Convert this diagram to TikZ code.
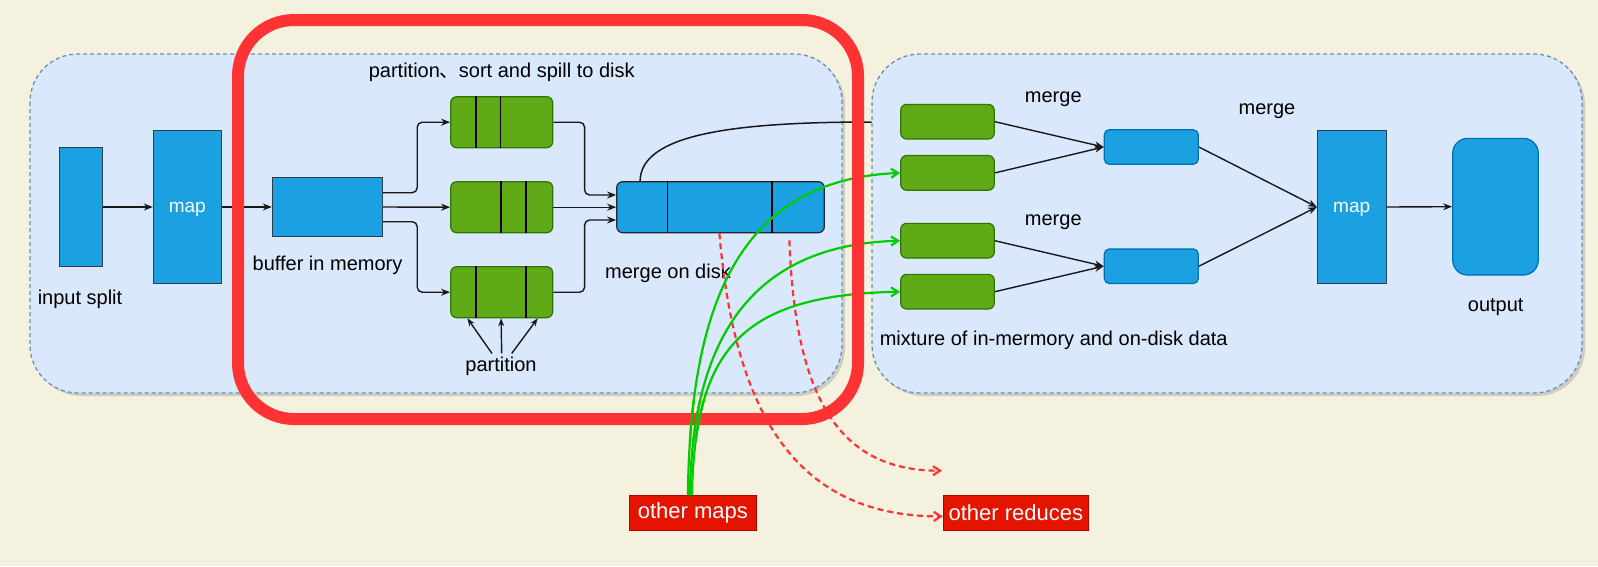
\documentclass[tikz,border=0pt]{standalone}
\usepackage{fontspec}
\setmainfont{Liberation Sans}
\newfontfamily\cjk{Noto Sans CJK SC}
\usetikzlibrary{arrows.meta,calc}
\definecolor{bgc}{HTML}{F4F1DE}
\definecolor{contfill}{HTML}{DAE8FC}
\definecolor{contline}{HTML}{6C8EBF}
\definecolor{bluefill}{HTML}{1BA1E2}
\definecolor{blueline}{HTML}{006EAF}
\definecolor{darkline}{HTML}{2E3B48}
\definecolor{greenfill}{HTML}{60A917}
\definecolor{greenline}{HTML}{2D7600}
\definecolor{redfill}{HTML}{E51400}
\definecolor{redline}{HTML}{B20000}
\definecolor{hired}{HTML}{FF3333}
\definecolor{gline}{HTML}{00CC00}
\begin{document}
\begin{tikzpicture}[x=1pt,y=-1pt,
  container/.style={draw=contline,fill=contfill,line width=1.3pt,dash pattern=on 4pt off 3pt,rounded corners=48pt},
  shadowbox/.style={fill=black!45,opacity=0.35,rounded corners=48pt},
  bluebox/.style={draw=darkline,fill=bluefill,line width=1pt,inner sep=0pt},
  bluerbox/.style={draw=blueline,fill=bluefill,line width=1.2pt,rounded corners=5pt,inner sep=0pt},
  greenbox/.style={draw=greenline,fill=greenfill,line width=1.2pt,rounded corners=6pt,inner sep=0pt},
  redbox/.style={draw=redline,fill=redfill,line width=1pt,inner sep=0pt,text=white,font=\fontsize{22}{26}\selectfont},
  lbl/.style={inner sep=1pt,text=black,font=\fontsize{20}{24}\selectfont},
  wlbl/.style={text=white,font=\fontsize{19}{22}\selectfont},
  conn/.style={draw=black!90,line width=1.4pt,-{Stealth[length=9pt,width=7pt]}},
  divline/.style={draw=black,line width=1.5pt},
  gconn/.style={draw=gline,line width=2.2pt,-{Straight Barb[length=7pt,width=9pt]}},
  rdash/.style={draw=hired,line width=2.2pt,dash pattern=on 6pt off 4pt,-{Straight Barb[length=7pt,width=9pt]}}
]
\useasboundingbox (0,0) rectangle (1598,566);
\fill[bgc] (0,0) rectangle (1598,566);

% containers
\fill[shadowbox] (33,57) rectangle (845,396);
\fill[shadowbox] (875,57) rectangle (1585,396);
\path[container] (30,54) rectangle (842,393);
\path[container] (872,54) rectangle (1582,393);

% left part nodes
\node[bluebox,minimum width=43pt,minimum height=119.4pt] (insplit) at (80.8,207) {};
\node[bluebox,minimum width=68pt,minimum height=152.6pt] (mapa) at (187.3,207) {};
\node[wlbl] (mapatxt) at (187.3,209) {map};
\node[bluebox,minimum width=110.4pt,minimum height=59.4pt] (buf) at (327.5,207) {};
\node[greenbox,minimum width=102pt,minimum height=51pt] (ga) at (501.7,122.2) {};
\node[greenbox,minimum width=102pt,minimum height=51pt] (gb) at (501.7,207.2) {};
\node[greenbox,minimum width=102pt,minimum height=51pt] (gc) at (501.7,292.2) {};
\node[draw=black!85,fill=bluefill,line width=1.2pt,rounded corners=6pt,inner sep=0pt,minimum width=207.6pt,minimum height=51pt] (mrg) at (720.5,207.2) {};

\draw[divline] ($(ga.north west)+(26,0)$) -- ($(ga.south west)+(26,0)$);
\draw[divline] ($(ga.north west)+(50.3,0)$) -- ($(ga.south west)+(50.3,0)$);
\draw[divline] ($(gb.north west)+(51,0)$) -- ($(gb.south west)+(51,0)$);
\draw[divline] ($(gb.north west)+(76,0)$) -- ($(gb.south west)+(76,0)$);
\draw[divline] ($(gc.north west)+(26,0)$) -- ($(gc.south west)+(26,0)$);
\draw[divline] ($(gc.north west)+(76,0)$) -- ($(gc.south west)+(76,0)$);
\draw[divline] ($(mrg.north west)+(51.6,0)$) -- ($(mrg.south west)+(51.6,0)$);
\draw[divline] ($(mrg.north west)+(156,0)$) -- ($(mrg.south west)+(156,0)$);

% labels left
\node[lbl] (linput) at (80,299) {input split};
\node[lbl] (lbuf) at (327.5,265) {buffer in memory};
\node[lbl] (lspill) at (501.7,72.5) {partition{\cjk 、}\kern-1pt sort and spill to disk};
\node[lbl] (lpart) at (501,366) {partition};
\node[lbl] (lmod) at (668,273) {merge on disk};

% right part nodes
\node[greenbox,minimum width=93.6pt,minimum height=34.7pt] (ra) at (947.5,121.7) {};
\node[greenbox,minimum width=93.6pt,minimum height=34.7pt] (rb) at (947.5,172.9) {};
\node[greenbox,minimum width=93.6pt,minimum height=34.7pt] (rc) at (947.5,240.7) {};
\node[greenbox,minimum width=93.6pt,minimum height=34.7pt] (rd) at (947.5,291.7) {};
\node[bluerbox,minimum width=94pt,minimum height=34.6pt] (re) at (1151.3,147) {};
\node[bluerbox,minimum width=94pt,minimum height=34.6pt] (rf) at (1151.3,266.2) {};
\node[bluebox,minimum width=68.7pt,minimum height=152.6pt] (mapb) at (1351.7,207) {};
\node[wlbl] (mapbtxt) at (1351.7,209) {map};
\node[draw=blueline,fill=bluefill,line width=1.2pt,rounded corners=15pt,inner sep=0pt,minimum width=85.6pt,minimum height=136.7pt] (outp) at (1495.5,206.7) {};

\node[lbl] (lm1) at (1053.3,99) {merge};
\node[lbl] (lm2) at (1053.3,222.5) {merge};
\node[lbl] (lm3) at (1267,111.5) {merge};
\node[lbl] (lmix) at (1053.7,340.5) {mixture of in-mermory and on-disk data};
\node[lbl] (lout) at (1495.7,307) {output};

% bottom nodes
\node[redbox,minimum width=127.7pt,minimum height=34.3pt] (omaps) at (692.9,512.9) {other maps};
\node[redbox,minimum width=145pt,minimum height=34.3pt] (ored) at (1015.8,512.9) {other reduces};

% connectors left
\draw[conn] (insplit.east) -- (mapa.west);
\draw[conn] (mapa.east) -- (buf.west);
\draw[conn,rounded corners=5pt] ($(buf.east)+(0,-14.3)$) -- ++(34,0) |- (ga.west);
\draw[conn] (buf.east) -- (gb.west);
\draw[conn,rounded corners=5pt] ($(buf.east)+(0,14.7)$) -- ++(34,0) |- (gc.west);
\draw[conn,rounded corners=5pt] (ga.east) -- ++(31.3,0) |- ($(mrg.west)+(0,-12.2)$);
\draw[conn] (gb.east) -- (mrg.west);
\draw[conn,rounded corners=5pt] (gc.east) -- ++(31.3,0) |- ($(mrg.west)+(0,12.8)$);
\draw[conn,-{Stealth[length=8pt,width=6pt]}] ($(lpart.north)+(-9,-2)$) -- ($(gc.south west)+(17.3,0)$);
\draw[conn,-{Stealth[length=8pt,width=6pt]}] ($(lpart.north)+(0.7,-2)$) -- ($(gc.south west)+(51,0)$);
\draw[conn,-{Stealth[length=8pt,width=6pt]}] ($(lpart.north)+(10.7,-2)$) -- ($(gc.south west)+(87.6,0)$);

% curve from merge to right container
\coordinate (curveend) at (871.7,122);
\draw[draw=black!90,line width=1.5pt] ($(mrg.north west)+(24,0)$) .. controls (640.7,135) and (730,122) .. (curveend);

% connectors right
\draw[conn] (ra.east) -- (re.west);
\draw[conn] (rb.east) -- (re.west);
\draw[conn] (rc.east) -- (rf.west);
\draw[conn] (rd.east) -- (rf.west);
\draw[conn] (re.east) -- (mapb.west);
\draw[conn] (rf.east) -- (mapb.west);
\draw[conn] (mapb.east) -- (outp.west);

% red dashed
\coordinate (redend) at (942,470.7);
\draw[rdash] ($(mrg.south west)+(103.3,0)$) .. controls (735,420) and (800,516.5) .. ($(ored.west)+(0,3.5)$);
\draw[rdash] ($(mrg.south west)+(173.3,7)$) .. controls (795,400) and (840,470.7) .. (redend);

% green curves
\newcommand{\greencurves}{%
\draw[gconn] ($(omaps.north)+(-5,0)$) .. controls (690,320) and (730,180) .. (rb.west);
\draw[gconn] ($(omaps.north)+(-3,0)$) .. controls (692,340) and (750,245) .. (rc.west);
\draw[gconn] ($(omaps.north)+(-1,0)$) .. controls (695,350) and (740,295) .. (rd.west);
}
\greencurves

% red highlight frame
\draw[hired,line width=12pt,rounded corners=56pt] (238,20) rectangle (858,419);

% green curves over the bottom band
\begin{scope}
\clip (600,400) rectangle (800,440);
\greencurves
\end{scope}
\end{tikzpicture}
\end{document}
